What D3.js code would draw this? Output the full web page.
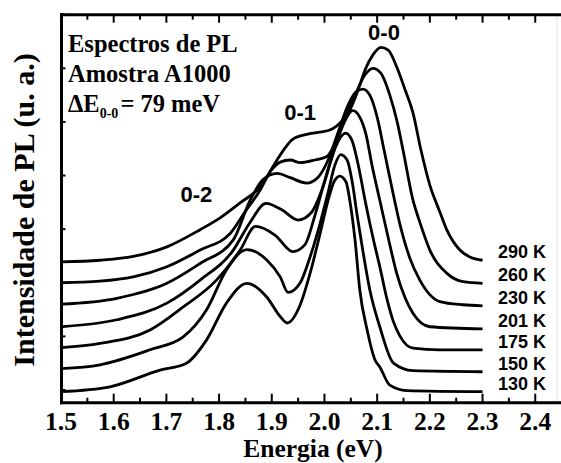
<!DOCTYPE html>
<html>
<head>
<meta charset="utf-8">
<script src="https://cdn.jsdelivr.net/npm/d3@7"></script>
<style>
body{margin:0;background:#fff;}
.serif{font-family:"Liberation Serif","Times New Roman",serif;font-weight:bold;}
.sans{font-family:"Liberation Sans",Arial,sans-serif;font-weight:bold;}
</style>
</head>
<body>
<div id="chart"></div>
<script>
// PL spectra, stacked (energy in eV, intensity in a.u. with offsets already in)
let e290 = [1.500,1.574,1.637,1.701,1.764,1.802,1.840,1.878,1.910,1.925,1.940,1.972,2.010,2.035,2.048,2.064,2.077,2.092,2.107,2.121,2.137,2.153,2.168,2.183,2.200,2.219,2.232,2.257,2.276,2.300];
let i290 = [23.9,24.2,24.9,26.7,29.9,32.1,34.9,37.9,42.9,45.1,46.8,47.8,48.5,50.4,52.2,56.0,59.7,62.5,63.9,63.4,60.3,56.0,51.7,44.8,38.2,33.2,29.9,26.1,24.8,24.2];

let e260 = [1.500,1.574,1.637,1.701,1.764,1.821,1.849,1.878,1.897,1.916,1.935,1.954,1.982,2.004,2.023,2.039,2.058,2.077,2.092,2.107,2.124,2.138,2.149,2.168,2.181,2.200,2.232,2.263,2.300];
let i260 = [20.0,20.3,21.1,23.0,26.1,29.2,33.2,37.3,40.7,42.5,42.9,42.4,42.9,43.5,46.6,50.7,55.0,58.8,60.0,59.1,55.0,50.0,44.8,35.4,31.3,26.1,21.8,20.2,19.9];

let e230 = [1.500,1.606,1.701,1.764,1.827,1.859,1.883,1.910,1.935,1.966,1.988,2.007,2.026,2.045,2.060,2.073,2.086,2.100,2.113,2.128,2.145,2.162,2.181,2.219,2.263,2.300];
let i230 = [16.0,17.1,19.9,23.6,28.0,35.4,39.2,40.4,39.6,38.6,39.7,42.9,48.1,53.2,55.6,56.1,55.0,50.9,44.8,37.7,30.2,24.6,20.5,16.5,15.9,15.7];

let e201 = [1.500,1.606,1.701,1.764,1.827,1.859,1.889,1.919,1.950,1.976,1.995,2.014,2.033,2.054,2.067,2.079,2.090,2.105,2.124,2.137,2.153,2.168,2.200,2.300];
let i201 = [11.8,13.1,16.2,20.5,26.1,31.3,34.8,33.6,31.7,33.2,37.3,43.3,48.9,52.1,50.9,47.6,42.0,35.4,27.1,21.8,17.2,14.3,11.8,11.4];

let e175 = [1.500,1.574,1.669,1.732,1.795,1.840,1.869,1.906,1.940,1.963,1.982,2.001,2.020,2.040,2.052,2.064,2.077,2.093,2.105,2.119,2.131,2.143,2.168,2.219,2.300];
let i175 = [7.9,8.7,11.2,15.5,20.5,26.1,30.5,28.9,25.8,27.1,32.6,39.2,45.1,47.9,46.6,42.0,35.4,28.0,23.0,16.8,12.7,10.1,7.8,7.5,7.5];

let e150 = [1.500,1.574,1.669,1.732,1.776,1.814,1.853,1.890,1.916,1.931,1.954,1.972,1.991,2.007,2.020,2.031,2.043,2.052,2.062,2.071,2.086,2.105,2.131,2.168,2.300];
let i150 = [4.0,4.7,7.5,9.9,14.9,22.4,26.2,24.3,21.1,18.2,20.0,24.6,30.8,36.9,42.0,43.9,42.9,39.2,32.6,27.1,18.7,11.8,5.0,3.6,3.4];

let e130 = [1.500,1.593,1.688,1.738,1.776,1.814,1.853,1.890,1.916,1.929,1.954,1.972,1.991,2.007,2.018,2.029,2.041,2.048,2.058,2.067,2.081,2.096,2.105,2.124,2.156,2.300];
let i130 = [-0.3,0.6,3.7,5.0,9.3,16.2,19.9,17.4,13.7,12.5,15.9,21.5,28.9,35.4,38.8,39.9,38.8,35.4,28.0,18.7,11.2,5.6,4.3,0.9,-0.1,-0.3];

let tempLabels = ["290 K","260 K","230 K","201 K","175 K","150 K","130 K"];
let xTicks = [1.5,1.6,1.7,1.8,1.9,2.0,2.1,2.2,2.3,2.4];
let xMinor = [1.55,1.65,1.75,1.85,1.95,2.05,2.15,2.25,2.35];
let yTicks = [0,10,20,30,40,50,60,70];

// vibronic peak labels, placed at (energy, intensity)
let peakNames = ["0-2","0-1","0-0"];
let peakE = [1.757,1.954,2.113];
let peakI = [35.1,50.4,65.2];

let spectra = [
    {t: tempLabels[0], e: e290, i: i290},
    {t: tempLabels[1], e: e260, i: i260},
    {t: tempLabels[2], e: e230, i: i230},
    {t: tempLabels[3], e: e201, i: i201},
    {t: tempLabels[4], e: e175, i: i175},
    {t: tempLabels[5], e: e150, i: i150},
    {t: tempLabels[6], e: e130, i: i130}
];

let width = 561, height = 463;
let plotLeft = 61.5, plotTop = 14.7, plotBottom = 402.7;

let svg = d3.select("#chart").append("svg")
    .attr("width", width)
    .attr("height", height)
    .style("background", "#fff");

let x = d3.scaleLinear().domain([1.5, 2.447]).range([61, 560]);
let y = d3.scaleLinear().domain([-2.37, 70]).range([plotBottom, plotTop]);

//faint right border
svg.append("line")
    .attr("x1", 557).attr("x2", 557).attr("y1", plotTop).attr("y2", plotBottom)
    .attr("stroke", "#e2e2e2").attr("stroke-width", 1);

//ticks (all pointing inward)
let tickG = svg.append("g").attr("stroke", "#000").attr("stroke-width", 2);
xTicks.forEach(d => {
    tickG.append("line").attr("x1", x(d)).attr("x2", x(d)).attr("y1", plotBottom).attr("y2", plotBottom - 9);
    tickG.append("line").attr("x1", x(d)).attr("x2", x(d)).attr("y1", plotTop).attr("y2", plotTop + 8);
});
xMinor.forEach(d => {
    tickG.append("line").attr("x1", x(d)).attr("x2", x(d)).attr("y1", plotBottom).attr("y2", plotBottom - 5);
    tickG.append("line").attr("x1", x(d)).attr("x2", x(d)).attr("y1", plotTop).attr("y2", plotTop + 5);
});
yTicks.forEach(d => {
    tickG.append("line").attr("x1", plotLeft).attr("x2", plotLeft + 4).attr("y1", y(d)).attr("y2", y(d));
});

//frame
let frame = svg.append("g").attr("stroke", "#000").attr("stroke-width", 3);
frame.append("line").attr("x1", plotLeft - 1.5).attr("x2", width).attr("y1", plotBottom).attr("y2", plotBottom);
frame.append("line").attr("x1", plotLeft - 1.5).attr("x2", width).attr("y1", plotTop).attr("y2", plotTop);
frame.append("line").attr("x1", plotLeft).attr("x2", plotLeft).attr("y1", plotTop - 1.5).attr("y2", plotBottom + 1.5);

//x tick labels
svg.append("g").selectAll("text")
    .data(xTicks)
    .enter()
    .append("text")
    .attr("class", "serif")
    .attr("x", d => x(d))
    .attr("y", 429.5)
    .attr("text-anchor", "middle")
    .attr("font-size", 25.5)
    .text(d3.format(".1f"));

//axis titles
svg.append("text")
    .attr("class", "serif")
    .attr("x", 313).attr("y", 457)
    .attr("text-anchor", "middle")
    .attr("font-size", 25.5)
    .text("Energia (eV)");

svg.append("text")
    .attr("class", "serif")
    .attr("transform", "translate(34,210) rotate(-90)")
    .attr("text-anchor", "middle")
    .attr("font-size", 30)
    .text("Intensidade de PL (u. a.)");

//spectra
let line = d3.line()
    .x(d => x(d[0]))
    .y(d => y(d[1]))
    .curve(d3.curveMonotoneX);

svg.append("g").selectAll("path")
    .data(spectra)
    .enter()
    .append("path")
    .attr("d", d => line(d.e.map((v, k) => [v, d.i[k]])))
    .attr("fill", "none")
    .attr("stroke", "#000")
    .attr("stroke-width", 2.8)
    .attr("stroke-linejoin", "round");

//temperature labels next to line ends
svg.append("g").selectAll("text")
    .data(spectra)
    .enter()
    .append("text")
    .attr("class", "sans")
    .attr("x", 498)
    .attr("y", d => y(d.i[d.i.length - 1]) - 2)
    .attr("font-size", 18)
    .text(d => d.t);

//peak labels
svg.append("g").selectAll("text")
    .data(peakNames)
    .enter()
    .append("text")
    .attr("class", "sans")
    .attr("x", (d, k) => x(peakE[k]))
    .attr("y", (d, k) => y(peakI[k]))
    .attr("text-anchor", "middle")
    .attr("font-size", 22)
    .text(d => d);

//annotation block
let note = svg.append("g").attr("class", "serif").attr("font-size", 24.5);
note.append("text").attr("x", 68).attr("y", 51.7).text("Espectros de PL");
note.append("text").attr("x", 68).attr("y", 81.7).text("Amostra A1000");
let dE = note.append("text").attr("x", 68).attr("y", 111.7);
dE.append("tspan").text("ΔE");
dE.append("tspan").attr("font-size", 14).attr("dy", 6).text("0-0");
dE.append("tspan").attr("dy", -6).attr("dx", 2).text("= 79 meV");
</script>
</body>
</html>
